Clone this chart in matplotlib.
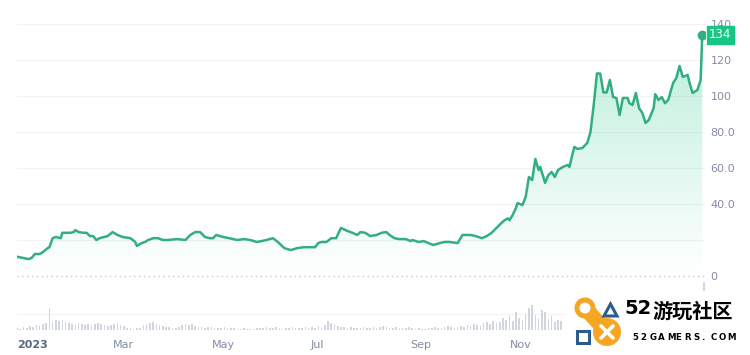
import numpy as np
import pandas as pd
import matplotlib
matplotlib.use("Agg")
import matplotlib.pyplot as plt
import matplotlib.dates as mdates
from matplotlib.patches import Circle, Rectangle, Polygon
from matplotlib.transforms import blended_transform_factory

plt.rcParams['font.family'] = ['DejaVu Sans', 'Noto Sans CJK SC']

# price: days after 2023-01-01 and price
days = [0, 4, 7, 9, 11, 14, 16, 19, 20, 22, 24, 27, 28, 33, 35, 36, 38, 41, 43, 45,
        47, 49, 51, 56, 59, 62, 65, 70, 73, 74, 77, 79, 81, 84, 87, 90, 93, 99, 104, 107,
        110, 113, 116, 119, 121, 123, 127, 131, 136, 140, 144, 148, 151, 154, 158, 161, 165, 169, 173, 177,
        181, 184, 186, 188, 191, 194, 197, 200, 204, 207, 210, 212, 215, 218, 222, 225, 228, 230, 233, 236,
        240, 243, 244, 248, 251, 254, 257, 261, 264, 267, 272, 275, 280, 283, 287, 290, 293, 296, 299, 301,
        303, 304, 306, 308, 309, 312, 314, 316, 318, 320, 322, 323, 326, 328, 330, 332, 334, 337, 340, 341,
        344, 346, 349, 352, 354, 356, 358, 360, 362, 364, 366, 368, 370, 372, 374, 377, 378, 380, 382, 384,
        386, 388, 390, 393, 394, 396, 398, 400, 402, 405, 407, 409, 411, 414, 415, 417, 420, 422, 423]
price = [10.7, 10.0, 9.4, 10.0, 12.2, 12.2, 13.3, 15.5, 16.0, 21.0, 21.7, 21.0, 24.0, 24.0, 24.4, 25.5, 24.4, 24.0, 24.0, 22.2,
         22.2, 20.0, 21.0, 22.2, 24.4, 22.8, 21.7, 21.0, 18.9, 16.7, 18.3, 18.9, 20.0, 21.0, 21.0, 20.0, 20.0, 20.5, 20.0, 22.8,
         24.4, 24.4, 21.7, 21.0, 21.0, 22.8, 21.7, 21.0, 20.0, 20.5, 20.0, 18.9, 19.4, 20.0, 21.0, 18.9, 15.5, 14.4, 15.5, 16.0,
         16.0, 16.0, 18.3, 18.9, 18.9, 21.0, 21.0, 26.7, 25.0, 24.0, 22.8, 24.4, 24.0, 22.2, 22.8, 24.0, 24.4, 22.8, 21.0, 20.5,
         20.5, 19.4, 20.0, 18.9, 19.4, 18.3, 17.2, 18.3, 18.9, 18.9, 18.3, 22.8, 22.8, 22.2, 21.0, 22.2, 24.0, 26.7, 29.4, 31.0,
         32.0, 31.0, 33.9, 37.8, 40.5, 39.4, 43.9, 55.0, 53.3, 65.0, 58.9, 60.6, 51.7, 56.0, 57.8, 55.0, 58.9, 60.6, 61.7, 60.6,
         71.7, 70.6, 71.1, 73.9, 80.0, 95.0, 112.5, 112.5, 102.0, 102.0, 108.9, 99.4, 98.9, 89.4, 98.9, 98.9, 96.0, 95.0, 101.7, 93.3,
         90.6, 85.0, 86.7, 93.3, 101.0, 97.8, 99.4, 96.0, 97.8, 107.2, 110.0, 116.7, 110.6, 111.7, 107.8, 101.7, 103.3, 108.9, 134.0]

# volume bars, one per two days (relative heights), visible part only
volume = [2, 1, 3, 2, 4, 3, 5, 4, 6, 7, 22, 8, 10, 9, 10, 8,
          7, 6, 5, 7, 6, 5, 6, 5, 6, 7, 6, 5, 4, 5,
          6, 7, 5, 4, 2, 2, 1, 2, 2, 5, 6, 7, 8, 6, 5,
          4, 3, 3, 2, 2, 3, 5, 6, 5, 6, 4, 3, 3, 2, 3,
          3, 2, 2, 2, 3, 2, 2, 2, 1, 1, 2, 1, 1, 1, 2, 2,
          2, 3, 2, 2, 3, 2, 1, 2, 2, 3, 2, 2, 2, 3, 2,
          3, 2, 4, 3, 5, 9, 7, 6, 4, 3, 3, 2, 3, 2, 2,
          2, 3, 2, 2, 3, 2, 3, 4, 3, 2, 2, 3, 2, 2, 2, 3,
          2, 1, 2, 1, 1, 2, 2, 3, 2, 2, 3, 4, 3, 2, 3,
          4, 3, 5, 4, 6, 5, 4, 7, 8, 6, 9, 7, 8, 12, 10,
          14, 9, 18, 12, 10, 16, 22, 25, 15, 12, 20, 18, 11, 14, 8, 10, 9]

y_ticks = [0, 20, 40, 60, 80, 100, 120, 140]
y_labels = ['0', '', '40.0', '60.0', '80.0', '100', '120', '140']
x_tick_dates = ['2023-01-01', '2023-03-01', '2023-05-01', '2023-07-01', '2023-09-01', '2023-11-01']
x_labels = ['2023', 'Mar', 'May', 'Jul', 'Sep', 'Nov']

start = pd.Timestamp('2023-01-01')
dates = start + pd.to_timedelta(days, unit='D')
vol_dates = start + pd.to_timedelta(np.arange(len(volume)) * 2, unit='D')

green = '#16c784'
line_c = '#33ae81'
grey_txt = '#858ca2'

W, H = 750, 355
fig = plt.figure(figsize=(7.5, 3.55), dpi=100)

x0, x1 = start, start + pd.Timedelta(days=424.7)

# price panel
ax = fig.add_axes([17 / W, 1 - 290 / H, 688 / W, 280 / H])
ax.set_xlim(x0, x1)
ax.set_ylim(-14 / 1.8, 266 / 1.8)

# gradient fill under the line
xn0, xn1 = mdates.date2num(x0), mdates.date2num(x1)
grad = np.zeros((200, 2, 4))
grad[..., :3] = matplotlib.colors.to_rgb(green)
grad[..., 3] = np.linspace(0.30, 0.0, 200)[:, None]
im = ax.imshow(grad, extent=[xn0, xn1, 0, 140], aspect='auto', origin='upper', zorder=1)
fill = ax.fill_between(dates, price, 0, color='none', lw=0)
im.set_clip_path(fill.get_paths()[0], transform=ax.transData)

ax.plot(dates, price, color=line_c, lw=1.8, zorder=3, solid_joinstyle='round')
ax.plot(dates[-1:], price[-1:], 'o', color=line_c, ms=6, zorder=4)

for v in y_ticks[1:]:
    ax.axhline(v, color='#f1f3f6', lw=0.8, zorder=0)
ax.axhline(0, color='#c3c7d0', lw=1.0, ls=(0, (1, 2.5)), zorder=0)

ax.yaxis.tick_right()
ax.set_yticks(y_ticks)
ax.set_yticklabels(y_labels)
ax.tick_params(axis='y', length=0, pad=4, labelsize=8, labelcolor=grey_txt)
ax.set_xticks([])
for s in ax.spines.values():
    s.set_visible(False)

# last price tag
tr = blended_transform_factory(ax.transAxes, ax.transData)
ax.text(1.006, price[-1], '%d' % price[-1], transform=tr, ha='left', va='center',
        color='white', fontsize=8.5, zorder=10,
        bbox=dict(boxstyle='square,pad=0.22', fc=green, ec=green))

# volume panel
axv = fig.add_axes([17 / W, 1 - 330 / H, 688 / W, 32 / H])
axv.set_xlim(x0, x1)
axv.set_ylim(0, 32)
axv.bar(vol_dates, volume, width=1.0, color='#d0d5e0', lw=0)
axv.axhline(16, color='#f3f4f7', lw=0.8, zorder=0)
axv.set_yticks([])
axv.set_xticks(pd.to_datetime(x_tick_dates))
axv.set_xticklabels(x_labels)
axv.tick_params(axis='x', length=0, pad=7, labelsize=8, labelcolor=grey_txt)
for lab in axv.get_xticklabels():
    lab.set_ha('left')
lab0 = axv.get_xticklabels()[0]
lab0.set_fontweight('bold')
lab0.set_color('#58667e')
for s in axv.spines.values():
    s.set_visible(False)

# overlay in pixel units for small marks and the watermark
ov = fig.add_axes([0, 0, 1, 1], zorder=20)
ov.set_xlim(0, W)
ov.set_ylim(H, 0)
ov.axis('off')
ov.plot([704, 704], [283, 290], color='#c9cdd6', lw=1.2)

orange = '#f6a623'
blue = '#2b5d8c'
ov.add_patch(Rectangle((566, 292), 184, 63, fc='white', ec='none', zorder=1))
ov.plot([585, 606], [308, 331], color=orange, lw=11, solid_capstyle='round', zorder=2)
ov.add_patch(Circle((585, 308), 10.5, fc=orange, ec='none', zorder=3))
ov.add_patch(Circle((585, 308), 5.5, fc='white', ec='none', zorder=4))
ov.add_patch(Circle((607, 332), 14, fc=orange, ec='none', zorder=3))
ov.plot([601, 613], [326, 338], color='white', lw=2.6, solid_capstyle='round', zorder=5)
ov.plot([601, 613], [338, 326], color='white', lw=2.6, solid_capstyle='round', zorder=5)
ov.add_patch(Polygon([[604, 316], [617, 316], [610.5, 304]], closed=True, fill=False,
                     ec=blue, lw=2.2, zorder=5))
ov.add_patch(Rectangle((577, 331), 12, 12, fill=False, ec=blue, lw=2.2, zorder=5))
ov.text(624, 309, '52', fontsize=14, fontweight='bold', color='black', va='center', ha='left',
        family=['DejaVu Sans'], zorder=6)
ov.text(652, 311, '游玩社区', fontsize=14.5, fontweight='bold', color='black', va='center', ha='left',
        family=['Noto Sans CJK SC', 'DejaVu Sans'], zorder=6)
for i, ch in enumerate('52GAMERS.COM'):
    ov.text(632 + i * 8.7, 338, ch, fontsize=6.2, fontweight='bold', color='black',
            va='center', ha='left', zorder=6)

fig.savefig('out.png', dpi=100)
